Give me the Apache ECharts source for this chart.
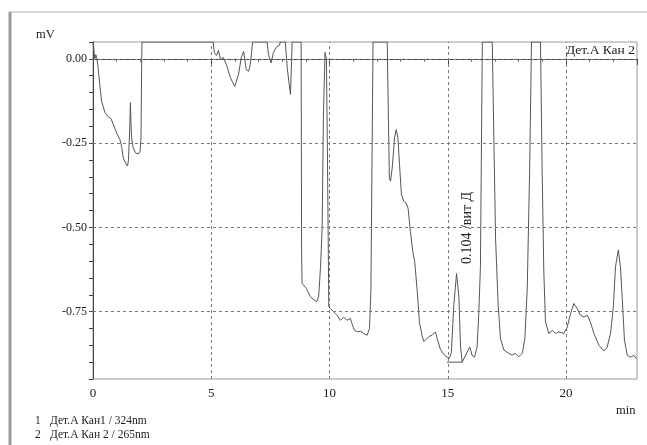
<!DOCTYPE html>
<html>
<head>
<meta charset="utf-8">
<script src="https://cdn.jsdelivr.net/npm/echarts@6/dist/echarts.min.js"></script>
<style>
  html, body { margin: 0; padding: 0; background: #fff; }
  #chart { width: 647px; height: 445px; }
</style>
</head>
<body>
<div id="chart"></div>
<script>
// retention time, min
var times = [
  0.00, 0.07, 0.08, 0.12, 0.16, 0.20, 0.30, 0.36, 0.51, 0.65, 0.76, 0.86, 1.00, 1.14, 1.21, 1.28,
  1.38, 1.46, 1.50, 1.55, 1.58, 1.60, 1.63, 1.70, 1.80, 1.92, 1.99, 2.03, 2.06, 2.07,
  5.08, 5.13, 5.22, 5.30, 5.39, 5.51, 5.64, 5.81, 5.99, 6.15, 6.27, 6.37, 6.48, 6.58, 6.65, 6.75,
  7.36, 7.42, 7.53, 7.63, 7.75, 7.88, 7.92, 8.13, 8.22, 8.35, 8.42, 8.80,
  8.82, 8.84, 9.02, 9.19, 9.45, 9.54, 9.62, 9.69, 9.74, 9.81, 9.87, 9.91, 9.97,
  10.11, 10.32, 10.46, 10.60, 10.74, 10.88, 10.97, 11.05, 11.17, 11.31, 11.45, 11.59, 11.69, 11.75, 11.80, 11.84,
  12.44, 12.48, 12.53, 12.58, 12.65, 12.75, 12.82, 12.89, 12.96, 13.04, 13.14, 13.24, 13.32, 13.42, 13.52, 13.60,
  13.71, 13.80, 13.92, 13.99, 14.06, 14.20, 14.34, 14.48, 14.55, 14.69, 14.83, 14.97, 15.07, 15.15,
  15.25, 15.37, 15.47, 15.54, 15.61, 15.68, 15.82, 15.93, 16.03, 16.13, 16.24, 16.31, 16.38, 16.46,
  16.88, 17.02, 17.13, 17.23, 17.37, 17.58, 17.72, 17.86, 18.00, 18.15, 18.26, 18.36, 18.46, 18.54,
  18.92, 18.99, 19.06, 19.13, 19.27, 19.42, 19.56, 19.70, 19.91, 20.05, 20.19, 20.33, 20.47, 20.61, 20.75, 20.90,
  21.03, 21.18, 21.39, 21.60, 21.74, 21.88, 22.00, 22.09, 22.21, 22.30, 22.38, 22.47, 22.59, 22.73, 22.87, 22.98
];
// detector signal, mV (0.05 = off scale at top)
var signal = [
  0.05, 0.05, 0.000, 0.012, 0.003, -0.016, -0.085, -0.125, -0.160, -0.173, -0.177, -0.195, -0.220, -0.240, -0.260, -0.294,
  -0.310, -0.318, -0.300, -0.214, -0.130, -0.175, -0.234, -0.264, -0.279, -0.282, -0.274, -0.234, 0.004, 0.05,
  0.05, 0.019, 0.010, 0.025, -0.002, 0.004, -0.017, -0.056, -0.082, -0.047, 0.004, 0.022, -0.032, -0.037, -0.017, 0.05,
  0.05, 0.013, -0.012, 0.019, 0.034, 0.040, 0.05, 0.05, -0.032, -0.106, 0.05, 0.05,
  -0.581, -0.666, -0.681, -0.706, -0.721, -0.706, -0.617, -0.498, -0.180, 0.019, -0.002, -0.270, -0.736,
  -0.746, -0.761, -0.776, -0.766, -0.776, -0.770, -0.790, -0.805, -0.810, -0.808, -0.815, -0.820, -0.800, -0.687, -0.270, 0.05,
  0.05, -0.135, -0.353, -0.363, -0.324, -0.234, -0.210, -0.234, -0.314, -0.403, -0.423, -0.428, -0.443, -0.512, -0.571, -0.601,
  -0.690, -0.780, -0.824, -0.839, -0.835, -0.824, -0.820, -0.810, -0.830, -0.862, -0.877, -0.885, -0.888, -0.872,
  -0.736, -0.637, -0.706, -0.855, -0.900, -0.900, -0.870, -0.855, -0.880, -0.885, -0.855, -0.756, -0.617, 0.05,
  0.05, -0.532, -0.730, -0.830, -0.864, -0.874, -0.879, -0.874, -0.884, -0.874, -0.830, -0.680, -0.333, 0.05,
  0.05, -0.333, -0.630, -0.780, -0.815, -0.806, -0.815, -0.810, -0.815, -0.796, -0.756, -0.726, -0.741, -0.761, -0.766, -0.761,
  -0.781, -0.815, -0.850, -0.867, -0.855, -0.815, -0.736, -0.617, -0.567, -0.617, -0.716, -0.835, -0.880, -0.885, -0.880, -0.890
];
// integration baseline under the vitamin D peak
var baseT = [14.96, 15.62];
var baseV = [-0.900, -0.900];

var xGrid = [5, 10, 15, 20];
var yGrid = [0, -0.25, -0.5, -0.75];

var serif = '"Liberation Serif", "DejaVu Serif", serif';

var chart = echarts.init(document.getElementById('chart'));

var traceData = times.map(function (t, i) { return [t, signal[i]]; });
var baseData = baseT.map(function (t, i) { return [t, baseV[i]]; });

var gridMarks = [];
yGrid.forEach(function (v) { gridMarks.push({ yAxis: v }); });
xGrid.forEach(function (v) { gridMarks.push({ xAxis: v }); });

var option = {
  animation: false,
  backgroundColor: '#fff',
  grid: {
    left: 93, right: 10, top: 42, bottom: 66,
    show: true, borderColor: '#9a9a9a', borderWidth: 1
  },
  xAxis: {
    type: 'value',
    min: 0, max: 23, interval: 5,
    axisLine: { lineStyle: { color: '#444', width: 1 } },
    axisTick: { length: 6, lineStyle: { color: '#444' } },
    minorTick: { show: true, splitNumber: 5, length: 3, lineStyle: { color: '#666' } },
    splitLine: { show: false },
    axisLabel: { color: '#222', fontFamily: serif, fontSize: 13, margin: 8, showMaxLabel: false }
  },
  yAxis: {
    type: 'value',
    min: -0.95, max: 0.05, interval: 0.05,
    axisLine: { show: true, lineStyle: { color: '#444', width: 1 } },
    axisTick: { show: true, length: 4, lineStyle: { color: '#444' } },
    splitLine: { show: false },
    axisLabel: {
      color: '#222', fontFamily: serif, fontSize: 12, margin: 6,
      formatter: function (v) {
        if (Math.abs(v * 4 - Math.round(v * 4)) > 1e-6) return '';
        if (Math.abs(v) < 1e-9) return '0.00';
        return v.toFixed(2);
      }
    }
  },
  series: [
    {
      type: 'line',
      data: traceData,
      showSymbol: false,
      smooth: false,
      lineStyle: { color: '#555', width: 1 },
      markLine: {
        silent: true,
        symbol: 'none',
        label: { show: false },
        lineStyle: { color: '#777', type: [3, 3], width: 1 },
        data: gridMarks
      }
    },
    {
      type: 'line',
      data: baseData,
      showSymbol: false,
      lineStyle: { color: '#555', width: 1 }
    }
  ],
  graphic: [
    { type: 'line', shape: { x1: 9, y1: 12, x2: 647, y2: 12 }, style: { stroke: '#b5b5b5', lineWidth: 1 } },
    { type: 'line', shape: { x1: 10, y1: 12, x2: 10, y2: 445 }, style: { stroke: '#9a9a9a', lineWidth: 3 } },
    { type: 'text', left: 36, top: 28, style: { text: 'mV', font: '12.5px ' + serif, fill: '#222' } },
    { type: 'text', left: 616, top: 404, style: { text: 'min', font: '12.5px ' + serif, fill: '#222' } },
    { type: 'text', left: 566, top: 43, style: { text: 'Дет.А Кан 2', font: '13.5px ' + serif, fill: '#222' } },
    {
      type: 'text', x: 467, y: 228, rotation: Math.PI / 2,
      style: { text: '0.104 /вит Д', font: '14px ' + serif, fill: '#222', align: 'center', verticalAlign: 'middle' }
    },
    { type: 'text', left: 35, top: 415, style: { text: '1', font: '11.5px ' + serif, fill: '#222' } },
    { type: 'text', left: 50, top: 415, style: { text: 'Дет.А Кан1 / 324nm', font: '11.5px ' + serif, fill: '#222' } },
    { type: 'text', left: 35, top: 429, style: { text: '2', font: '11.5px ' + serif, fill: '#222' } },
    { type: 'text', left: 50, top: 429, style: { text: 'Дет.А Кан 2 / 265nm', font: '11.5px ' + serif, fill: '#222' } }
  ]
};

chart.setOption(option);
</script>
</body>
</html>
